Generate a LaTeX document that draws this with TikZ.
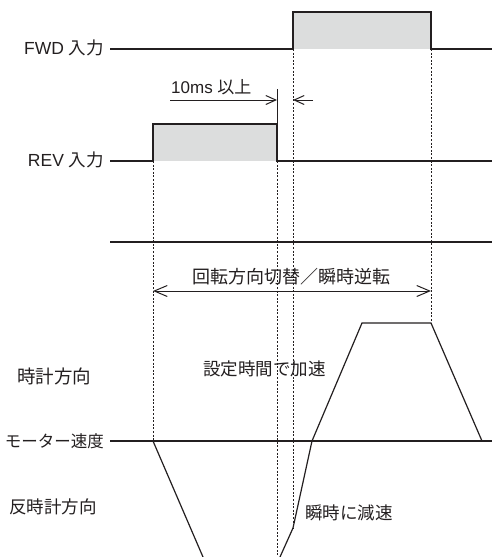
\documentclass[tikz,border=0pt]{standalone}
\usepackage{fontspec}
\setmainfont{Liberation Sans}
\newfontfamily\jp{Noto Sans CJK JP}
\usetikzlibrary{arrows.meta}
\definecolor{ink}{HTML}{231F20}
\definecolor{pulsefill}{HTML}{DCDDDD}
\begin{document}
\begin{tikzpicture}[x=1pt,y=-1pt,
  sig/.style={draw=ink,line width=1.2pt},
  guide/.style={draw=ink,line width=1pt,dash pattern=on 2pt off 1.6pt},
  lbl/.style={inner sep=0pt,text=ink,font=\fontsize{17.5}{19}\selectfont},
  jlbl/.style={lbl,font=\jp\fontsize{17.5}{19}\selectfont},
  barb/.style={-{Straight Barb[length=10pt,width=9pt,line width=1pt]}},
  bigbarb/.style={{Straight Barb[length=13pt,width=11pt,line width=1pt]}-{Straight Barb[length=13pt,width=11pt,line width=1pt]}}]
\useasboundingbox (0,0) rectangle (492,557);
% coordinates
\coordinate (fs) at (110,49);
\coordinate (fr) at (293,49);
\coordinate (frh) at (293,12);
\coordinate (ffh) at (431,12);
\coordinate (ff) at (431,49);
\coordinate (fe) at (492,49);
\coordinate (rs) at (110,161);
\coordinate (rr) at (153,161);
\coordinate (rrh) at (153,124);
\coordinate (rfh) at (277,124);
\coordinate (rf) at (277,161);
\coordinate (re) at (492,161);
\coordinate (mt) at (277,89);
% fills
\fill[pulsefill] (frh) rectangle (ff);
\fill[pulsefill] (rrh) rectangle (rf);
% FWD
\draw[sig] (fs) -- (fr) -- (frh) -- (ffh) -- (ff) -- (fe);
% REV
\draw[sig] (rs) -- (rr) -- (rrh) -- (rfh) -- (rf) -- (re);
\draw[sig,line width=1pt] (mt) -- (rfh);
% labels
\node[lbl,anchor=east] (lfwd) at (104,48) {FWD {\jp 入力}};
\node[lbl,anchor=east] (lrev) at (104,160) {REV {\jp 入力}};
% 10ms
\node[lbl,anchor=west,font=\fontsize{17}{19}\selectfont] (l10) at (171,87) {10ms {\jp 以上}};
\coordinate (a1s) at (170,100);
\coordinate (a1e) at (277,100);
\coordinate (a2s) at (313,100);
\coordinate (a2e) at (293,100);
\draw[sig,line width=1pt,barb] (a1s) -- (a1e);
\draw[sig,line width=1pt,barb] (a2s) -- (a2e);
% separator
\coordinate (hs) at (110,242);
\coordinate (he) at (492,242);
\draw[sig] (hs) -- (he);
% double arrow
\coordinate (ds) at (153,291);
\coordinate (de) at (431,291);
\draw[sig,line width=1pt,bigbarb] (ds) -- (de);
\node[jlbl,font=\jp\fontsize{18}{19}\selectfont] (lrot) at (291,277) {回転方向切替／瞬時逆転};
% speed axis
\coordinate (ms) at (110,441);
\coordinate (me) at (492,441);
\draw[sig] (ms) -- (me);
\node[jlbl,anchor=east,font=\jp\fontsize{16.5}{19}\selectfont] (lspd) at (104,441) {モーター速度};
% speed curve
\coordinate (c0) at (153,441);
\coordinate (c1) at (203,557);
\coordinate (c2) at (280,557);
\coordinate (c3) at (293,528);
\coordinate (c4) at (312,441);
\coordinate (c5) at (362,323);
\coordinate (c6) at (431,323);
\coordinate (c7) at (482,441);
\draw[sig,line join=miter] (c0) -- (c1);
\draw[sig,line join=miter] (c2) -- (c3) -- (c4) -- (c5) -- (c6) -- (c7);
% guides
\coordinate (g1b) at (153,441);
\coordinate (g2b) at (277,557);
\coordinate (g3b) at (293,528);
\coordinate (g4b) at (431,323);
\draw[guide] (rr) -- (g1b);
\draw[guide] (rf) -- (g2b);
\draw[guide] (fr) -- (g3b);
\draw[guide] (ff) -- (g4b);
% other labels
\node[jlbl,anchor=west,font=\jp\fontsize{18.5}{19}\selectfont] (lcw) at (17,376) {時計方向};
\node[jlbl,anchor=west] (lccw) at (9,507) {反時計方向};
\node[jlbl,anchor=west] (lacc) at (203,369) {設定時間で加速};
\node[jlbl,anchor=west] (ldec) at (305,513) {瞬時に減速};
\end{tikzpicture}
\end{document}
